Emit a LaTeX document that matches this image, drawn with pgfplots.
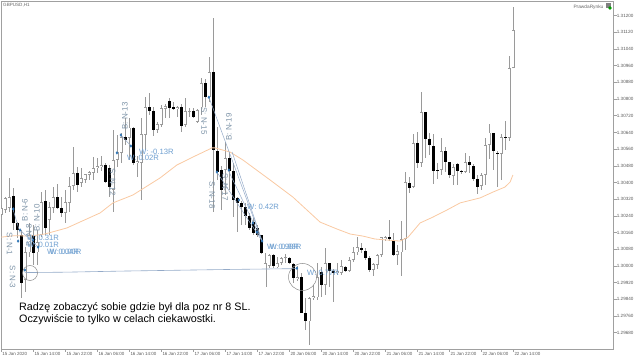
\documentclass[border=0pt]{standalone}
\usepackage{fontspec}
\setmainfont{Liberation Sans}
\usepackage{pgfplots}
\usepackage{pgfplotstable}
\pgfplotsset{compat=1.18}
\definecolor{frame}{HTML}{A0A0A0}
\definecolor{wick}{HTML}{9A9A9A}
\definecolor{ema}{HTML}{F9C9A2}
\definecolor{guide}{HTML}{94AAC8}
\definecolor{wtext}{HTML}{6E9FD0}
\definecolor{ntext}{HTML}{7E94A8}
\definecolor{bluemark}{HTML}{2F75B5}
\pgfplotstableread{
i o h l c
0 1.30244 1.30292 1.30234 1.30278
1 1.30268 1.30330 1.30254 1.30326
2 1.30278 1.30422 1.30258 1.30330
3 1.30335 1.30374 1.30172 1.30206
4 1.30206 1.30210 1.30134 1.30172
5 1.30148 1.30172 1.29846 1.29918
6 1.29932 1.30090 1.29874 1.30066
7 1.30066 1.30206 1.30042 1.30148
8 1.30148 1.30196 1.30004 1.30062
9 1.30066 1.30172 1.30004 1.30114
10 1.30148 1.30354 1.30138 1.30306
11 1.30311 1.30364 1.30148 1.30182
12 1.30220 1.30306 1.30148 1.30282
13 1.30278 1.30378 1.30254 1.30330
14 1.30330 1.30393 1.30273 1.30278
15 1.30278 1.30330 1.30234 1.30254
16 1.30254 1.30364 1.30206 1.30306
17 1.30302 1.30426 1.30258 1.30383
18 1.30383 1.30570 1.30364 1.30446
19 1.30446 1.30474 1.30354 1.30388
20 1.30398 1.30470 1.30378 1.30422
21 1.30412 1.30441 1.30398 1.30441
22 1.30436 1.30455 1.30412 1.30450
23 1.30446 1.30522 1.30412 1.30470
24 1.30470 1.30518 1.30446 1.30479
25 1.30474 1.30527 1.30455 1.30484
26 1.30484 1.30494 1.30398 1.30402
27 1.30470 1.30484 1.30330 1.30378
28 1.30364 1.30652 1.30258 1.30508
29 1.30508 1.30628 1.30474 1.30546
30 1.30542 1.30638 1.30494 1.30618
31 1.30618 1.30709 1.30580 1.30604
32 1.30614 1.30709 1.30508 1.30662
33 1.30662 1.30666 1.30484 1.30494
34 1.30494 1.30527 1.30426 1.30503
35 1.30494 1.30709 1.30316 1.30633
36 1.30628 1.30809 1.30556 1.30761
37 1.30761 1.30829 1.30724 1.30743
38 1.30743 1.30761 1.30623 1.30652
39 1.30652 1.30690 1.30638 1.30681
40 1.30676 1.30771 1.30666 1.30757
41 1.30752 1.30776 1.30709 1.30766
42 1.30790 1.30805 1.30709 1.30757
43 1.30761 1.30785 1.30747 1.30752
44 1.30752 1.30766 1.30714 1.30761
45 1.30761 1.30776 1.30642 1.30671
46 1.30676 1.30805 1.30666 1.30743
47 1.30738 1.30757 1.30714 1.30743
48 1.30743 1.30757 1.30709 1.30714
49 1.30690 1.30752 1.30685 1.30747
50 1.30761 1.30901 1.30724 1.30877
51 1.30877 1.30896 1.30761 1.30809
52 1.30809 1.31001 1.30785 1.30929
53 1.30929 1.31189 1.30258 1.30556
54 1.30551 1.30666 1.30412 1.30450
55 1.30460 1.30479 1.30268 1.30364
56 1.30460 1.30594 1.30340 1.30518
57 1.30518 1.30546 1.30364 1.30455
58 1.30455 1.30494 1.30234 1.30316
59 1.30326 1.30330 1.30162 1.30302
60 1.30302 1.30311 1.30196 1.30282
61 1.30282 1.30302 1.30196 1.30239
62 1.30239 1.30254 1.30172 1.30182
63 1.30210 1.30229 1.30148 1.30158
64 1.30182 1.30196 1.30138 1.30148
65 1.30148 1.30148 1.30057 1.30062
66 1.29898 1.30062 1.29898 1.30014
67 1.29999 1.30057 1.29990 1.30052
68 1.30052 1.30057 1.29990 1.29999
69 1.29994 1.30042 1.29990 1.30014
70 1.30014 1.30042 1.30004 1.30038
71 1.30038 1.30057 1.30014 1.30042
72 1.30038 1.30042 1.30009 1.30014
73 1.30009 1.30014 1.29918 1.29942
74 1.29937 1.29999 1.29927 1.29946
75 1.29946 1.29966 1.29774 1.29774
76 1.29774 1.29846 1.29692 1.29735
77 1.29735 1.29850 1.29620 1.29846
78 1.29846 1.29908 1.29836 1.29855
79 1.29850 1.30014 1.29836 1.29946
80 1.29970 1.29994 1.29850 1.29908
81 1.29908 1.30086 1.29860 1.30014
82 1.30014 1.30014 1.29898 1.29975
83 1.29975 1.29985 1.29826 1.29966
84 1.29966 1.30014 1.29956 1.29975
85 1.29966 1.30028 1.29956 1.29999
86 1.29994 1.29999 1.29970 1.29975
87 1.29975 1.30042 1.29970 1.30028
88 1.30028 1.30090 1.30018 1.30066
89 1.30066 1.30138 1.30052 1.30090
90 1.30086 1.30110 1.30062 1.30076
91 1.30071 1.30086 1.30028 1.30038
92 1.30038 1.30047 1.29970 1.29980
93 1.29980 1.30014 1.29951 1.30009
94 1.30004 1.30057 1.29985 1.30052
95 1.30052 1.30138 1.30042 1.30138
96 1.30129 1.30143 1.30119 1.30138
97 1.30138 1.30220 1.30119 1.30129
98 1.30124 1.30158 1.30047 1.30052
99 1.30052 1.30100 1.30004 1.30071
100 1.30066 1.30215 1.29951 1.30129
101 1.30129 1.30450 1.30076 1.30402
102 1.30398 1.30426 1.30350 1.30374
103 1.30378 1.30633 1.30374 1.30590
104 1.30590 1.30642 1.30470 1.30494
105 1.30494 1.30833 1.30474 1.30738
106 1.30738 1.30738 1.30518 1.30609
107 1.30609 1.30638 1.30532 1.30580
108 1.30575 1.30633 1.30393 1.30455
109 1.30460 1.30494 1.30417 1.30455
110 1.30460 1.30614 1.30436 1.30551
111 1.30551 1.30570 1.30450 1.30498
112 1.30498 1.30498 1.30422 1.30436
113 1.30431 1.30489 1.30388 1.30474
114 1.30489 1.30494 1.30388 1.30455
115 1.30455 1.30460 1.30441 1.30450
116 1.30450 1.30542 1.30446 1.30498
117 1.30498 1.30527 1.30446 1.30484
118 1.30479 1.30489 1.30407 1.30417
119 1.30417 1.30436 1.30345 1.30378
120 1.30383 1.30446 1.30364 1.30436
121 1.30436 1.30614 1.30388 1.30580
122 1.30580 1.30681 1.30513 1.30638
123 1.30638 1.30638 1.30460 1.30551
124 1.30542 1.30551 1.30378 1.30537
125 1.30537 1.30633 1.30412 1.30618
126 1.30618 1.30695 1.30556 1.30614
127 1.30614 1.31006 1.30599 1.30949
128 1.30949 1.31241 1.30949 1.31131
}\candles
\newcommand\pos[2]{(#1bp,{360bp-#2bp})}
\newcommand\wlabel[3]{\node[anchor=west,inner sep=0pt,text=wtext,font=\fontsize{7.7}{8}\selectfont] at \pos{#1}{#2} {#3};}
\newcommand\nlabel[4]{\node[rotate=#3,inner sep=0pt,text=ntext,font=\fontsize{8}{9}\selectfont] at \pos{#1}{#2} {#4};}
\pgfplotsset{candlepart/.style={forget plot,draw=none,mark=none}}
\begin{document}
\begin{tikzpicture}[x=1bp,y=1bp]
\path[use as bounding box] (0,0) rectangle (640bp,360bp);
\begin{axis}[
  at={(1.1bp,11bp)},anchor=south west,scale only axis,
  width=612.4bp,height=347.5bp,
  xmin=-0.05,xmax=153.05,ymin=1.296015,ymax=1.31268,
  axis line style={draw=frame,line width=0.8bp},
  tick style={draw=frame,line width=0.6bp},
  tick align=outside,major tick length=3bp,
  xtick pos=bottom,ytick pos=right,
  xtick={0,8,...,128},
  xticklabels={15 Jan 2020,15 Jan 14:00,15 Jan 22:00,16 Jan 06:00,16 Jan 14:00,16 Jan 22:00,17 Jan 06:00,17 Jan 14:00,17 Jan 22:00,20 Jan 06:00,20 Jan 14:00,20 Jan 22:00,21 Jan 06:00,21 Jan 14:00,21 Jan 22:00,22 Jan 06:00,22 Jan 14:00},
  ytick={1.312,1.3112,1.3104,1.3096,1.3088,1.308,1.3072,1.3064,1.3056,1.3048,1.304,1.3032,1.3024,1.3016,1.3008,1.3,1.2992,1.2984,1.2976,1.2968},
  yticklabels={1.31200,1.31120,1.31040,1.30960,1.30880,1.30800,1.30720,1.30640,1.30560,1.30480,1.30400,1.30320,1.30240,1.30160,1.30080,1.30000,1.29920,1.29840,1.29760,1.29680},
  x tick label style={anchor=north west,inner sep=0pt,xshift=1bp,yshift=-0.5bp,font=\fontsize{4.5}{5}\selectfont,text=black!65},
  y tick label style={anchor=west,inner sep=0pt,xshift=0.2bp,font=\fontsize{4.6}{5}\selectfont,text=black!65},
]
% wicks
\addplot[candlepart,error bars/.cd,y dir=both,y explicit,error mark=none,
  error bar style={draw=wick,line width=0.8bp}]
  table[x=i,y=o,y error plus expr={\thisrow{h}-\thisrow{o}},y error minus expr={\thisrow{o}-\thisrow{l}}] {\candles};
% rising bodies
\addplot[candlepart,error bars/.cd,y dir=both,y explicit,error mark=none,
  error bar style={draw=wick,line width=3.3bp}]
  table[x=i,y=o,y error plus expr={max(\thisrow{c}-\thisrow{o},0)},y error minus expr={0}] {\candles};
\addplot[candlepart,error bars/.cd,y dir=both,y explicit,error mark=none,
  error bar style={draw=white,line width=1.7bp}]
  table[x=i,y expr={\thisrow{o}+0.00003},y error plus expr={max(\thisrow{c}-\thisrow{o}-0.00006,0)},y error minus expr={0}] {\candles};
% falling bodies
\addplot[candlepart,error bars/.cd,y dir=both,y explicit,error mark=none,
  error bar style={draw=black,line width=2.7bp}]
  table[x=i,y=o,y error plus expr={0},y error minus expr={max(\thisrow{o}-\thisrow{c},0)}] {\candles};
% moving average
\addplot[forget plot,color=ema,line width=0.8bp] coordinates {
(0,1.30138)(3.4,1.30145)(7.2,1.30143)(10.9,1.30153)(16.4,1.30182)(24.7,1.30254)(27.9,1.30302)(32.9,1.30340)(39.7,1.30422)(43.9,1.30484)(47.9,1.30522)(52.7,1.30566)(53.4,1.30566)(57.2,1.30546)(60.4,1.30508)(67.2,1.30412)(72.9,1.30330)(79.7,1.30210)(83.9,1.30177)(87.2,1.30153)(90.4,1.30143)(93.4,1.30129)(99.7,1.30119)(101.7,1.30138)(104.7,1.30206)(107.9,1.30234)(111.4,1.30268)(114.7,1.30302)(119.7,1.30326)(122.9,1.30354)(125.9,1.30378)(127.2,1.30402)(127.9,1.30436)};
% trade lines
\addplot[forget plot,color=guide,line width=0.6bp] coordinates {(5.9,1.29968)(16.4,1.29970)(29.7,1.29975)(57.2,1.29983)(73.9,1.29987)};
\addplot[forget plot,color=guide,line width=0.5bp] coordinates {(51.9,1.30809)(65.2,1.30119)};
\addplot[forget plot,color=guide,line width=0.5bp] coordinates {(57.7,1.30546)(65.2,1.30119)};
\addplot[forget plot,color=guide,line width=0.5bp] coordinates {(56.7,1.30460)(65.2,1.30119)};
\addplot[forget plot,color=guide,line width=0.5bp] coordinates {(53.9,1.30450)(65.2,1.30119)};
\addplot[forget plot,color=guide,line width=0.5bp] coordinates {(2.9,1.30273)(4.7,1.30158)};
\addplot[forget plot,color=guide,line width=0.5bp] coordinates {(29.9,1.30628)(32.4,1.30575)};
\addplot[forget plot,color=guide,line width=0.5bp] coordinates {(4.7,1.30172)(9.2,1.30090)};
% entries and exits
\addplot[forget plot,only marks,mark=diamond*,mark size=1.3bp,color=bluemark] coordinates {
(3.0,1.30273)(4.7,1.30172)(4.2,1.30119)(5.9,1.29980)(7.9,1.30124)(9.2,1.30090)(28.9,1.30542)(29.9,1.30628)(32.4,1.30575)(51.9,1.30809)(53.9,1.30450)(56.9,1.30460)(59.4,1.30316)(62.9,1.30206)(63.9,1.30162)(65.2,1.30119)(73.9,1.29989)};
\end{axis}
% circles
\draw[black!45,line width=0.5bp] \pos{30}{273} circle (7.5bp);
\draw[black!45,line width=0.5bp] \pos{302.5}{277} ellipse (14bp and 13.5bp);
% result labels
\wlabel{27}{238}{W: 0.31R}
\wlabel{27}{245}{W: 0.01R}
\wlabel{47}{252}{W: 0.04R}
\wlabel{49.5}{252}{W: 0.00R}
\wlabel{139}{152}{W: -0.13R}
\wlabel{127}{158}{W: 0.02R}
\wlabel{247}{207}{W: 0.42R}
\wlabel{267}{247}{W: 0.98R}
\wlabel{269.5}{247}{W: 0.88R}
\wlabel{307}{273}{W: 0.77R}
% position labels
\nlabel{9.5}{244}{-90}{S: N-1}
\nlabel{12.5}{277}{-90}{S: N-3}
\nlabel{25}{210}{90}{B: N-6}
\nlabel{29}{235}{90}{B: N-8}
\nlabel{37}{218}{90}{B: N-10}
\nlabel{112.7}{182}{-90}{S: N-12}
\nlabel{125}{116}{90}{B: N-13}
\nlabel{204}{121}{-90}{S: N-15}
\nlabel{212}{195}{-90}{S: N-18}
\nlabel{225}{187}{-90}{S: N-17}
\nlabel{229}{127}{90}{B: N-19}
% comment
\node[anchor=west,inner sep=0pt,font=\fontsize{10.8}{12}\selectfont] at \pos{19}{307.5} {Radzę zobaczyć sobie gdzie był dla poz nr 8 SL.};
\node[anchor=west,inner sep=0pt,font=\fontsize{10.8}{12}\selectfont] at \pos{19}{320} {Oczywiście to tylko w celach ciekawostki.};
% header
\node[anchor=west,inner sep=0pt,text=black!60,font=\fontsize{4.6}{5}\selectfont] at \pos{3}{5} {GBPUSD,H1};
\node[anchor=east,inner sep=0pt,text=black!60,font=\fontsize{4.8}{5}\selectfont] at \pos{603.5}{7} {PrawdaRynku};
\fill[black!50] \pos{605.5}{3} rectangle \pos{610.5}{8};
\fill[green!60!black] \pos{610}{8} circle (1.8bp);
\end{tikzpicture}
\end{document}
